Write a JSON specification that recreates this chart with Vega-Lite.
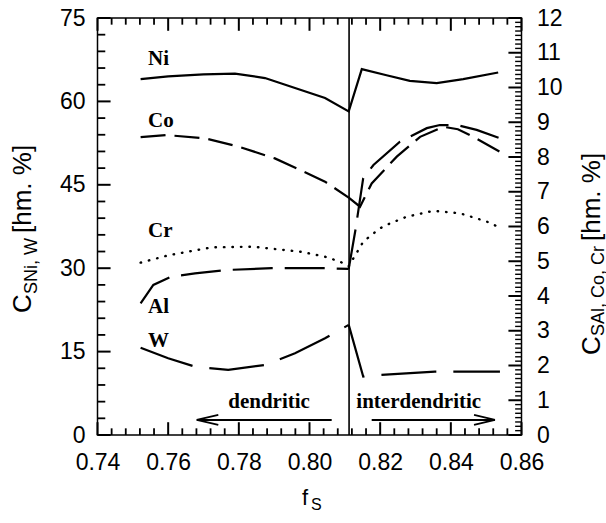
{
 "$schema": "https://vega.github.io/schema/vega-lite/v6.json",
 "width": 424,
 "height": 417,
 "autosize": {"type": "none"},
 "padding": {"left": 97.5, "top": 18, "right": 84.5, "bottom": 88},
 "background": "white",
 "config": {
  "view": {"stroke": "black", "strokeWidth": 1.5},
  "axis": {"grid": false, "domain": false, "labelColor": "black", "labelFont": "Liberation Sans", "labelFontSize": 23, "labelFlush": false, "labelOverlap": false}
 },
 "datasets": {
  "lines": [
   {"el": "Ni", "seg": "d", "f": 0.7522, "v": 64.0},
   {"el": "Ni", "seg": "d", "f": 0.7600, "v": 64.5},
   {"el": "Ni", "seg": "d", "f": 0.7700, "v": 64.85},
   {"el": "Ni", "seg": "d", "f": 0.7789, "v": 65.0},
   {"el": "Ni", "seg": "d", "f": 0.7874, "v": 64.2},
   {"el": "Ni", "seg": "d", "f": 0.7959, "v": 62.4},
   {"el": "Ni", "seg": "d", "f": 0.8044, "v": 60.6},
   {"el": "Ni", "seg": "d", "f": 0.8111, "v": 58.2},
   {"el": "Ni", "seg": "d", "f": 0.8148, "v": 65.8},
   {"el": "Ni", "seg": "d", "f": 0.8218, "v": 64.7},
   {"el": "Ni", "seg": "d", "f": 0.8284, "v": 63.7},
   {"el": "Ni", "seg": "d", "f": 0.8360, "v": 63.3},
   {"el": "Ni", "seg": "d", "f": 0.8435, "v": 64.0},
   {"el": "Ni", "seg": "d", "f": 0.8534, "v": 65.2},
   {"el": "W", "seg": "d", "f": 0.7522, "v": 15.7},
   {"el": "W", "seg": "d", "f": 0.7600, "v": 13.8},
   {"el": "W", "seg": "d", "f": 0.7676, "v": 12.3},
   {"el": "W", "seg": "d", "f": 0.7770, "v": 11.7},
   {"el": "W", "seg": "d", "f": 0.7874, "v": 12.6},
   {"el": "W", "seg": "d", "f": 0.7959, "v": 14.7},
   {"el": "W", "seg": "d", "f": 0.8044, "v": 17.4},
   {"el": "W", "seg": "d", "f": 0.8111, "v": 19.8},
   {"el": "W", "seg": "i", "f": 0.8111, "v": 19.8},
   {"el": "W", "seg": "i", "f": 0.8152, "v": 10.5},
   {"el": "W", "seg": "i", "f": 0.8200, "v": 10.8},
   {"el": "W", "seg": "i", "f": 0.8355, "v": 11.4},
   {"el": "W", "seg": "i", "f": 0.8539, "v": 11.4},
   {"el": "Co", "seg": "d", "f": 0.7522, "v": 8.57},
   {"el": "Co", "seg": "d", "f": 0.7596, "v": 8.63},
   {"el": "Co", "seg": "d", "f": 0.7704, "v": 8.54},
   {"el": "Co", "seg": "d", "f": 0.7799, "v": 8.30},
   {"el": "Co", "seg": "d", "f": 0.7902, "v": 7.96},
   {"el": "Co", "seg": "d", "f": 0.7973, "v": 7.63},
   {"el": "Co", "seg": "d", "f": 0.8044, "v": 7.29},
   {"el": "Co", "seg": "d", "f": 0.8111, "v": 6.83},
   {"el": "Co", "seg": "i", "f": 0.8111, "v": 6.83},
   {"el": "Co", "seg": "i", "f": 0.8143, "v": 6.57},
   {"el": "Co", "seg": "i", "f": 0.8176, "v": 7.24},
   {"el": "Co", "seg": "i", "f": 0.8247, "v": 8.01},
   {"el": "Co", "seg": "i", "f": 0.8313, "v": 8.58},
   {"el": "Co", "seg": "i", "f": 0.8379, "v": 8.87},
   {"el": "Co", "seg": "i", "f": 0.8420, "v": 8.80},
   {"el": "Co", "seg": "i", "f": 0.8464, "v": 8.58},
   {"el": "Co", "seg": "i", "f": 0.8539, "v": 8.15},
   {"el": "Al", "seg": "d", "f": 0.7522, "v": 3.79},
   {"el": "Al", "seg": "d", "f": 0.7558, "v": 4.32},
   {"el": "Al", "seg": "d", "f": 0.7610, "v": 4.56},
   {"el": "Al", "seg": "d", "f": 0.7676, "v": 4.65},
   {"el": "Al", "seg": "d", "f": 0.7770, "v": 4.75},
   {"el": "Al", "seg": "d", "f": 0.7893, "v": 4.80},
   {"el": "Al", "seg": "d", "f": 0.8044, "v": 4.80},
   {"el": "Al", "seg": "d", "f": 0.8111, "v": 4.78},
   {"el": "Al", "seg": "i", "f": 0.8111, "v": 4.78},
   {"el": "Al", "seg": "i", "f": 0.8130, "v": 5.90},
   {"el": "Al", "seg": "i", "f": 0.8152, "v": 7.39},
   {"el": "Al", "seg": "i", "f": 0.8181, "v": 7.77},
   {"el": "Al", "seg": "i", "f": 0.8256, "v": 8.44},
   {"el": "Al", "seg": "i", "f": 0.8332, "v": 8.83},
   {"el": "Al", "seg": "i", "f": 0.8369, "v": 8.92},
   {"el": "Al", "seg": "i", "f": 0.8417, "v": 8.92},
   {"el": "Al", "seg": "i", "f": 0.8473, "v": 8.78},
   {"el": "Al", "seg": "i", "f": 0.8539, "v": 8.54},
   {"el": "Cr", "seg": "d", "f": 0.7522, "v": 4.96},
   {"el": "Cr", "seg": "d", "f": 0.7600, "v": 5.17},
   {"el": "Cr", "seg": "d", "f": 0.7723, "v": 5.40},
   {"el": "Cr", "seg": "d", "f": 0.7838, "v": 5.42},
   {"el": "Cr", "seg": "d", "f": 0.7978, "v": 5.27},
   {"el": "Cr", "seg": "d", "f": 0.8044, "v": 5.13},
   {"el": "Cr", "seg": "d", "f": 0.8086, "v": 4.99},
   {"el": "Cr", "seg": "d", "f": 0.8111, "v": 4.86},
   {"el": "Cr", "seg": "i", "f": 0.8111, "v": 4.86},
   {"el": "Cr", "seg": "i", "f": 0.8138, "v": 5.32},
   {"el": "Cr", "seg": "i", "f": 0.8152, "v": 5.56},
   {"el": "Cr", "seg": "i", "f": 0.8176, "v": 5.76},
   {"el": "Cr", "seg": "i", "f": 0.8200, "v": 5.95},
   {"el": "Cr", "seg": "i", "f": 0.8228, "v": 6.09},
   {"el": "Cr", "seg": "i", "f": 0.8275, "v": 6.28},
   {"el": "Cr", "seg": "i", "f": 0.8350, "v": 6.45},
   {"el": "Cr", "seg": "i", "f": 0.8426, "v": 6.38},
   {"el": "Cr", "seg": "i", "f": 0.8502, "v": 6.14},
   {"el": "Cr", "seg": "i", "f": 0.8534, "v": 5.99}
  ],
  "annot": [
   {"part": "dshaft", "f": 0.7681, "v": 2.7},
   {"part": "dshaft", "f": 0.80628, "v": 2.7},
   {"part": "darm1", "f": 0.7681, "v": 2.7},
   {"part": "darm1", "f": 0.77419, "v": 3.6},
   {"part": "darm2", "f": 0.7681, "v": 2.7},
   {"part": "darm2", "f": 0.77419, "v": 1.8},
   {"part": "ishaft", "f": 0.8176, "v": 2.7},
   {"part": "ishaft", "f": 0.8525, "v": 2.7},
   {"part": "iarm1", "f": 0.84656, "v": 3.6},
   {"part": "iarm1", "f": 0.8525, "v": 2.7},
   {"part": "iarm2", "f": 0.84656, "v": 1.8},
   {"part": "iarm2", "f": 0.8525, "v": 2.7}
  ],
  "vline": [{"f": 0.8112}],
  "xMajor": [{"f": 0.74}, {"f": 0.76}, {"f": 0.78}, {"f": 0.8}, {"f": 0.82}, {"f": 0.84}, {"f": 0.86}],
  "xMajorTop": [{"f": 0.74}, {"f": 0.76}, {"f": 0.78}, {"f": 0.8}, {"f": 0.82}, {"f": 0.84}, {"f": 0.86}],
  "xMinor": [{"f":0.744},{"f":0.748},{"f":0.752},{"f":0.756},{"f":0.764},{"f":0.768},{"f":0.772},{"f":0.776},{"f":0.784},{"f":0.788},{"f":0.792},{"f":0.796},{"f":0.804},{"f":0.808},{"f":0.812},{"f":0.816},{"f":0.824},{"f":0.828},{"f":0.832},{"f":0.836},{"f":0.844},{"f":0.848},{"f":0.852},{"f":0.856}],
  "xMinorTop": [{"f":0.744},{"f":0.748},{"f":0.752},{"f":0.756},{"f":0.764},{"f":0.768},{"f":0.772},{"f":0.776},{"f":0.784},{"f":0.788},{"f":0.792},{"f":0.796},{"f":0.804},{"f":0.808},{"f":0.812},{"f":0.816},{"f":0.824},{"f":0.828},{"f":0.832},{"f":0.836},{"f":0.844},{"f":0.848},{"f":0.852},{"f":0.856}],
  "yLMajor": [{"v": 0}, {"v": 15}, {"v": 30}, {"v": 45}, {"v": 60}, {"v": 75}],
  "yLMinor": [{"v":3},{"v":6},{"v":9},{"v":12},{"v":18},{"v":21},{"v":24},{"v":27},{"v":33},{"v":36},{"v":39},{"v":42},{"v":48},{"v":51},{"v":54},{"v":57},{"v":63},{"v":66},{"v":69},{"v":72}],
  "yRMajor": [{"v":0},{"v":1},{"v":2},{"v":3},{"v":4},{"v":5},{"v":6},{"v":7},{"v":8},{"v":9},{"v":10},{"v":11},{"v":12}],
  "yRMinor": [{"v":0.125},{"v":0.25},{"v":0.375},{"v":0.5},{"v":0.625},{"v":0.75},{"v":0.875},{"v":1.125},{"v":1.25},{"v":1.375},{"v":1.5},{"v":1.625},{"v":1.75},{"v":1.875},{"v":2.125},{"v":2.25},{"v":2.375},{"v":2.5},{"v":2.625},{"v":2.75},{"v":2.875},{"v":3.125},{"v":3.25},{"v":3.375},{"v":3.5},{"v":3.625},{"v":3.75},{"v":3.875},{"v":4.125},{"v":4.25},{"v":4.375},{"v":4.5},{"v":4.625},{"v":4.75},{"v":4.875},{"v":5.125},{"v":5.25},{"v":5.375},{"v":5.5},{"v":5.625},{"v":5.75},{"v":5.875},{"v":6.125},{"v":6.25},{"v":6.375},{"v":6.5},{"v":6.625},{"v":6.75},{"v":6.875},{"v":7.125},{"v":7.25},{"v":7.375},{"v":7.5},{"v":7.625},{"v":7.75},{"v":7.875},{"v":8.125},{"v":8.25},{"v":8.375},{"v":8.5},{"v":8.625},{"v":8.75},{"v":8.875},{"v":9.125},{"v":9.25},{"v":9.375},{"v":9.5},{"v":9.625},{"v":9.75},{"v":9.875},{"v":10.125},{"v":10.25},{"v":10.375},{"v":10.5},{"v":10.625},{"v":10.75},{"v":10.875},{"v":11.125},{"v":11.25},{"v":11.375},{"v":11.5},{"v":11.625},{"v":11.75},{"v":11.875}],
  "labels": [
   {"t": "Ni", "f": 0.75429, "v": 66.55},
   {"t": "Co", "f": 0.75429, "v": 55.40},
   {"t": "Cr", "f": 0.75429, "v": 35.61},
   {"t": "Al", "f": 0.75429, "v": 21.94},
   {"t": "W", "f": 0.75429, "v": 15.83},
   {"t": "dendritic", "f": 0.77699, "v": 4.86},
   {"t": "interdendritic", "f": 0.81325, "v": 4.86}
  ],
  "titleMain": [
   {"t": "C", "f": 0.72118, "v": 21.94},
   {"t": "[hm. %]", "f": 0.72118, "v": 36.33},
   {"t": "C", "f": 0.88222, "v": 14.39},
   {"t": "[hm. %]", "f": 0.88222, "v": 34.89}
  ],
  "titleSub": [
   {"t": "SNi, W", "f": 0.72288, "v": 25.36},
   {"t": "SAl, Co, Cr", "f": 0.88335, "v": 17.81}
  ],
  "xTitleMain": [{"t": "f", "f": 0.79788, "v": -12.6}],
  "xTitleSub": [{"t": "S", "f": 0.80042, "v": -13.5}]
 },
 "resolve": {"scale": {"y": "independent"}, "axis": {"x": "independent", "y": "independent"}},
 "layer": [
  {
   "data": {"name": "xMajor"},
   "mark": {"type": "rule", "color": "black", "strokeWidth": 2},
   "encoding": {
    "x": {"field": "f", "type": "quantitative", "scale": {"domain": [0.74, 0.86], "nice": false, "zero": false},
     "axis": {"orient": "bottom", "values": [0.74, 0.76, 0.78, 0.8, 0.82, 0.84, 0.86], "format": ".2f", "ticks": false, "tickSize": 0, "labelPadding": 16.3, "title": null}},
    "y": {"datum": 0, "type": "quantitative", "scale": {"domain": [0, 75], "nice": false, "zero": false}, "axis": null},
    "y2": {"datum": 2.3}
   }
  },
  {
   "data": {"name": "yLMajor"},
   "mark": {"type": "rule", "color": "black", "strokeWidth": 2},
   "encoding": {
    "y": {"field": "v", "type": "quantitative", "scale": {"domain": [0, 75], "nice": false, "zero": false},
     "axis": {"orient": "left", "values": [0, 15, 30, 45, 60, 75], "ticks": false, "tickSize": 0, "labelPadding": 12.5, "title": null}},
    "x": {"datum": 0.74, "type": "quantitative", "scale": {"domain": [0.74, 0.86], "nice": false, "zero": false}, "axis": null},
    "x2": {"datum": 0.7437}
   }
  },
  {
   "data": {"name": "yRMajor"},
   "mark": {"type": "rule", "color": "black", "strokeWidth": 2},
   "encoding": {
    "y": {"field": "v", "type": "quantitative", "scale": {"domain": [0, 12], "nice": false, "zero": false},
     "axis": {"orient": "right", "values": [0,1,2,3,4,5,6,7,8,9,10,11,12], "ticks": false, "tickSize": 0, "labelPadding": 15, "title": null}},
    "x": {"datum": 0.86, "type": "quantitative", "scale": {"domain": [0.74, 0.86], "nice": false, "zero": false}, "axis": null},
    "x2": {"datum": 0.8563}
   }
  },
  {
   "data": {"name": "xMajorTop"},
   "mark": {"type": "rule", "color": "black", "strokeWidth": 2},
   "encoding": {
    "x": {"field": "f", "type": "quantitative", "scale": {"domain": [0.74, 0.86], "nice": false, "zero": false}, "axis": null},
    "y": {"datum": 75, "type": "quantitative", "scale": {"domain": [0, 75], "nice": false, "zero": false}, "axis": null},
    "y2": {"datum": 72.7}
   }
  },
  {
   "data": {"name": "xMinor"},
   "mark": {"type": "rule", "color": "black", "strokeWidth": 1.8},
   "encoding": {
    "x": {"field": "f", "type": "quantitative", "scale": {"domain": [0.74, 0.86], "nice": false, "zero": false}, "axis": null},
    "y": {"datum": 0, "type": "quantitative", "scale": {"domain": [0, 75], "nice": false, "zero": false}, "axis": null},
    "y2": {"datum": 1.2}
   }
  },
  {
   "data": {"name": "xMinorTop"},
   "mark": {"type": "rule", "color": "black", "strokeWidth": 1.8},
   "encoding": {
    "x": {"field": "f", "type": "quantitative", "scale": {"domain": [0.74, 0.86], "nice": false, "zero": false}, "axis": null},
    "y": {"datum": 75, "type": "quantitative", "scale": {"domain": [0, 75], "nice": false, "zero": false}, "axis": null},
    "y2": {"datum": 73.8}
   }
  },
  {
   "data": {"name": "yLMinor"},
   "mark": {"type": "rule", "color": "black", "strokeWidth": 1.8},
   "encoding": {
    "y": {"field": "v", "type": "quantitative", "scale": {"domain": [0, 75], "nice": false, "zero": false}, "axis": null},
    "x": {"datum": 0.74, "type": "quantitative", "scale": {"domain": [0.74, 0.86], "nice": false, "zero": false}, "axis": null},
    "x2": {"datum": 0.7422}
   }
  },
  {
   "data": {"name": "yRMinor"},
   "mark": {"type": "rule", "color": "black", "strokeWidth": 1.4},
   "encoding": {
    "y": {"field": "v", "type": "quantitative", "scale": {"domain": [0, 12], "nice": false, "zero": false}, "axis": null},
    "x": {"datum": 0.86, "type": "quantitative", "scale": {"domain": [0.74, 0.86], "nice": false, "zero": false}, "axis": null},
    "x2": {"datum": 0.8582}
   }
  },
  {
   "data": {"name": "lines"},
   "transform": [{"filter": "datum.el === 'Ni'"}],
   "mark": {"type": "line", "color": "black", "strokeWidth": 2.2},
   "encoding": {
    "x": {"field": "f", "type": "quantitative", "scale": {"domain": [0.74, 0.86], "nice": false, "zero": false}, "axis": null},
    "y": {"field": "v", "type": "quantitative", "scale": {"domain": [0, 75], "nice": false, "zero": false}, "axis": null},
    "detail": {"field": "seg"}
   }
  },
  {
   "data": {"name": "lines"},
   "transform": [{"filter": "datum.el === 'W'"}],
   "mark": {"type": "line", "color": "black", "strokeWidth": 2.2, "strokeDash": [55, 17]},
   "encoding": {
    "x": {"field": "f", "type": "quantitative", "scale": {"domain": [0.74, 0.86], "nice": false, "zero": false}, "axis": null},
    "y": {"field": "v", "type": "quantitative", "scale": {"domain": [0, 75], "nice": false, "zero": false}, "axis": null},
    "detail": {"field": "seg"}
   }
  },
  {
   "data": {"name": "lines"},
   "transform": [{"filter": "datum.el === 'Co'"}],
   "mark": {"type": "line", "color": "black", "strokeWidth": 2.2, "strokeDash": [25, 9]},
   "encoding": {
    "x": {"field": "f", "type": "quantitative", "scale": {"domain": [0.74, 0.86], "nice": false, "zero": false}, "axis": null},
    "y": {"field": "v", "type": "quantitative", "scale": {"domain": [0, 12], "nice": false, "zero": false}, "axis": null},
    "detail": {"field": "seg"}
   }
  },
  {
   "data": {"name": "lines"},
   "transform": [{"filter": "datum.el === 'Al'"}],
   "mark": {"type": "line", "color": "black", "strokeWidth": 2.2, "strokeDash": [40, 12]},
   "encoding": {
    "x": {"field": "f", "type": "quantitative", "scale": {"domain": [0.74, 0.86], "nice": false, "zero": false}, "axis": null},
    "y": {"field": "v", "type": "quantitative", "scale": {"domain": [0, 12], "nice": false, "zero": false}, "axis": null},
    "detail": {"field": "seg"}
   }
  },
  {
   "data": {"name": "lines"},
   "transform": [{"filter": "datum.el === 'Cr'"}],
   "mark": {"type": "line", "color": "black", "strokeWidth": 2.4, "strokeDash": [0.5, 8], "strokeCap": "round"},
   "encoding": {
    "x": {"field": "f", "type": "quantitative", "scale": {"domain": [0.74, 0.86], "nice": false, "zero": false}, "axis": null},
    "y": {"field": "v", "type": "quantitative", "scale": {"domain": [0, 12], "nice": false, "zero": false}, "axis": null},
    "detail": {"field": "seg"}
   }
  },
  {
   "data": {"name": "vline"},
   "mark": {"type": "rule", "color": "black", "strokeWidth": 1.6},
   "encoding": {
    "x": {"field": "f", "type": "quantitative", "scale": {"domain": [0.74, 0.86], "nice": false, "zero": false}, "axis": null}
   }
  },
  {
   "data": {"name": "annot"},
   "mark": {"type": "line", "color": "black", "strokeWidth": 1.8},
   "encoding": {
    "x": {"field": "f", "type": "quantitative", "scale": {"domain": [0.74, 0.86], "nice": false, "zero": false}, "axis": null},
    "y": {"field": "v", "type": "quantitative", "scale": {"domain": [0, 75], "nice": false, "zero": false}, "axis": null},
    "detail": {"field": "part"}
   }
  },
  {
   "data": {"name": "labels"},
   "mark": {"type": "text", "font": "Liberation Serif", "fontWeight": "bold", "fontSize": 21, "align": "left", "baseline": "alphabetic", "color": "black"},
   "encoding": {
    "x": {"field": "f", "type": "quantitative", "scale": {"domain": [0.74, 0.86], "nice": false, "zero": false}, "axis": null},
    "y": {"field": "v", "type": "quantitative", "scale": {"domain": [0, 75], "nice": false, "zero": false}, "axis": null},
    "text": {"field": "t"}
   }
  },
  {
   "data": {"name": "titleMain"},
   "mark": {"type": "text", "font": "Liberation Sans", "fontSize": 26, "angle": 270, "align": "left", "baseline": "alphabetic", "color": "black"},
   "encoding": {
    "x": {"field": "f", "type": "quantitative", "scale": {"domain": [0.74, 0.86], "nice": false, "zero": false}, "axis": null},
    "y": {"field": "v", "type": "quantitative", "scale": {"domain": [0, 75], "nice": false, "zero": false}, "axis": null},
    "text": {"field": "t"}
   }
  },
  {
   "data": {"name": "titleSub"},
   "mark": {"type": "text", "font": "Liberation Sans", "fontSize": 18, "angle": 270, "align": "left", "baseline": "alphabetic", "color": "black"},
   "encoding": {
    "x": {"field": "f", "type": "quantitative", "scale": {"domain": [0.74, 0.86], "nice": false, "zero": false}, "axis": null},
    "y": {"field": "v", "type": "quantitative", "scale": {"domain": [0, 75], "nice": false, "zero": false}, "axis": null},
    "text": {"field": "t"}
   }
  },
  {
   "data": {"name": "xTitleMain"},
   "mark": {"type": "text", "font": "Liberation Sans", "fontSize": 22, "align": "left", "baseline": "alphabetic", "color": "black"},
   "encoding": {
    "x": {"field": "f", "type": "quantitative", "scale": {"domain": [0.74, 0.86], "nice": false, "zero": false}, "axis": null},
    "y": {"field": "v", "type": "quantitative", "scale": {"domain": [0, 75], "nice": false, "zero": false}, "axis": null},
    "text": {"field": "t"}
   }
  },
  {
   "data": {"name": "xTitleSub"},
   "mark": {"type": "text", "font": "Liberation Sans", "fontSize": 16, "align": "left", "baseline": "alphabetic", "color": "black"},
   "encoding": {
    "x": {"field": "f", "type": "quantitative", "scale": {"domain": [0.74, 0.86], "nice": false, "zero": false}, "axis": null},
    "y": {"field": "v", "type": "quantitative", "scale": {"domain": [0, 75], "nice": false, "zero": false}, "axis": null},
    "text": {"field": "t"}
   }
  }
 ]
}
